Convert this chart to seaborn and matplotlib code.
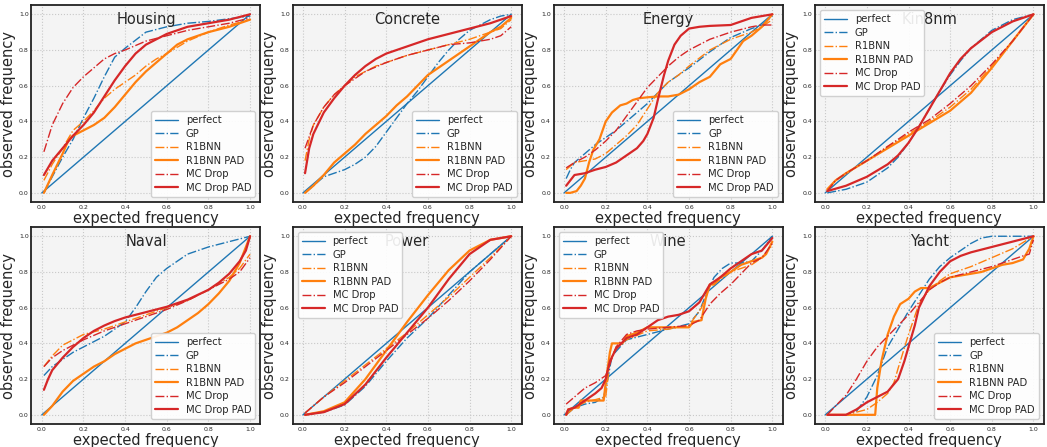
import matplotlib
matplotlib.use("Agg")
import matplotlib.pyplot as plt
import seaborn as sns

# each curve: (expected frequency, observed frequency)
perfect = ([0.0, 1.0], [0.0, 1.0])

housing = {
    "GP": ([0.01, 0.05, 0.1, 0.15, 0.2, 0.25, 0.3, 0.35, 0.4, 0.5, 0.6, 0.7, 0.8, 0.9, 1.0],
           [0.0, 0.09, 0.2, 0.3, 0.42, 0.53, 0.65, 0.76, 0.81, 0.9, 0.93, 0.95, 0.96, 0.975, 0.99]),
    "R1BNN": ([0.01, 0.05, 0.1, 0.15, 0.2, 0.25, 0.3, 0.35, 0.4, 0.45, 0.5, 0.55, 0.6, 0.7, 0.8, 0.9, 1.0],
              [0.07, 0.16, 0.25, 0.35, 0.4, 0.46, 0.53, 0.58, 0.62, 0.66, 0.71, 0.75, 0.78, 0.85, 0.9, 0.94, 0.97]),
    "R1BNN PAD": ([0.01, 0.05, 0.1, 0.13, 0.15, 0.2, 0.25, 0.3, 0.35, 0.4, 0.45, 0.5, 0.55, 0.6, 0.65, 0.7, 0.8, 0.9, 1.0],
                  [0.0, 0.1, 0.22, 0.3, 0.32, 0.35, 0.38, 0.42, 0.48, 0.55, 0.62, 0.68, 0.73, 0.78, 0.83, 0.86, 0.9, 0.93, 0.97]),
    "MC Drop": ([0.01, 0.05, 0.1, 0.15, 0.2, 0.25, 0.3, 0.35, 0.4, 0.5, 0.6, 0.7, 0.8, 0.9, 1.0],
                [0.23, 0.38, 0.5, 0.59, 0.65, 0.7, 0.75, 0.78, 0.8, 0.85, 0.88, 0.91, 0.93, 0.95, 0.98]),
    "MC Drop PAD": ([0.01, 0.05, 0.1, 0.15, 0.2, 0.25, 0.3, 0.35, 0.4, 0.45, 0.5, 0.6, 0.7, 0.8, 0.9, 1.0],
                    [0.1, 0.18, 0.25, 0.32, 0.38, 0.45, 0.54, 0.63, 0.71, 0.78, 0.83, 0.89, 0.93, 0.95, 0.97, 1.0]),
}

concrete = {
    "GP": ([0.01, 0.05, 0.1, 0.15, 0.2, 0.25, 0.3, 0.35, 0.4, 0.45, 0.5, 0.55, 0.6, 0.65, 0.7, 0.75, 0.8, 0.85, 0.9, 0.95, 1.0],
           [0.0, 0.04, 0.09, 0.11, 0.13, 0.16, 0.2, 0.26, 0.34, 0.42, 0.5, 0.57, 0.65, 0.73, 0.8, 0.86, 0.91, 0.94, 0.97, 0.99, 1.0]),
    "R1BNN": ([0.01, 0.03, 0.05, 0.1, 0.15, 0.2, 0.25, 0.3, 0.35, 0.4, 0.5, 0.6, 0.7, 0.8, 0.9, 0.95, 1.0],
              [0.18, 0.3, 0.38, 0.48, 0.55, 0.6, 0.65, 0.68, 0.71, 0.73, 0.77, 0.8, 0.83, 0.86, 0.9, 0.92, 0.97]),
    "R1BNN PAD": ([0.01, 0.05, 0.1, 0.15, 0.2, 0.25, 0.3, 0.35, 0.4, 0.45, 0.5, 0.55, 0.6, 0.65, 0.7, 0.75, 0.8, 0.85, 0.9, 0.95, 1.0],
                  [0.0, 0.04, 0.1, 0.17, 0.22, 0.27, 0.33, 0.38, 0.43, 0.49, 0.54, 0.6, 0.66, 0.7, 0.74, 0.78, 0.82, 0.86, 0.9, 0.93, 0.98]),
    "MC Drop": ([0.01, 0.05, 0.1, 0.15, 0.2, 0.3, 0.4, 0.5, 0.6, 0.7, 0.8, 0.85, 0.9, 0.95, 1.0],
                [0.25, 0.38, 0.48, 0.55, 0.6, 0.68, 0.73, 0.77, 0.8, 0.83, 0.84, 0.85, 0.86, 0.88, 0.93]),
    "MC Drop PAD": ([0.01, 0.03, 0.05, 0.1, 0.15, 0.2, 0.25, 0.3, 0.35, 0.4, 0.5, 0.6, 0.7, 0.8, 0.9, 1.0],
                    [0.11, 0.25, 0.33, 0.45, 0.53, 0.6, 0.66, 0.71, 0.75, 0.78, 0.82, 0.86, 0.89, 0.92, 0.95, 0.99]),
}

energy = {
    "GP": ([0.01, 0.03, 0.05, 0.1, 0.15, 0.2, 0.25, 0.3, 0.35, 0.4, 0.45, 0.5, 0.55, 0.6, 0.7, 0.8, 0.9, 0.95, 1.0],
           [0.08, 0.13, 0.17, 0.22, 0.27, 0.31, 0.35, 0.4, 0.45, 0.5, 0.56, 0.62, 0.66, 0.7, 0.79, 0.87, 0.92, 0.94, 0.99]),
    "R1BNN": ([0.01, 0.05, 0.1, 0.15, 0.2, 0.25, 0.3, 0.35, 0.4, 0.45, 0.5, 0.55, 0.6, 0.7, 0.8, 0.9, 0.95, 1.0],
              [0.13, 0.17, 0.18, 0.19, 0.22, 0.27, 0.32, 0.38, 0.47, 0.56, 0.62, 0.66, 0.71, 0.8, 0.86, 0.9, 0.93, 0.97]),
    "R1BNN PAD": ([0.01, 0.03, 0.06, 0.08, 0.1, 0.12, 0.14, 0.17, 0.2, 0.23, 0.27, 0.3, 0.33, 0.36, 0.4, 0.45, 0.5,
                   0.55, 0.6, 0.65, 0.7, 0.75, 0.8, 0.83, 0.86, 0.9, 0.95, 1.0],
                  [0.0, 0.0, 0.01, 0.04, 0.08, 0.17, 0.24, 0.3, 0.4, 0.45, 0.49, 0.5, 0.52, 0.53, 0.535, 0.54, 0.54,
                   0.55, 0.58, 0.62, 0.65, 0.72, 0.75, 0.8, 0.85, 0.88, 0.93, 1.0]),
    "MC Drop": ([0.01, 0.05, 0.1, 0.15, 0.2, 0.25, 0.3, 0.35, 0.4, 0.45, 0.5, 0.55, 0.6, 0.7, 0.8, 0.9, 0.95, 1.0],
                [0.14, 0.17, 0.2, 0.24, 0.29, 0.35, 0.43, 0.51, 0.59, 0.65, 0.71, 0.76, 0.8, 0.86, 0.9, 0.93, 0.94, 0.94]),
    "MC Drop PAD": ([0.01, 0.03, 0.05, 0.1, 0.15, 0.2, 0.25, 0.3, 0.35, 0.38, 0.4, 0.43, 0.45, 0.48, 0.5, 0.53,
                     0.56, 0.6, 0.65, 0.7, 0.8, 0.85, 0.9, 1.0],
                    [0.04, 0.07, 0.1, 0.11, 0.13, 0.145, 0.17, 0.21, 0.25, 0.29, 0.33, 0.42, 0.52, 0.66, 0.74, 0.83,
                     0.88, 0.92, 0.93, 0.935, 0.94, 0.96, 0.98, 1.0]),
}

kin8nm = {
    "GP": ([0.01, 0.1, 0.2, 0.3, 0.35, 0.4, 0.45, 0.5, 0.55, 0.6, 0.65, 0.7, 0.8, 0.9, 1.0],
           [0.0, 0.02, 0.06, 0.14, 0.2, 0.28, 0.37, 0.47, 0.57, 0.66, 0.74, 0.81, 0.91, 0.97, 1.0]),
    "R1BNN": ([0.01, 0.05, 0.1, 0.2, 0.3, 0.4, 0.5, 0.6, 0.7, 0.8, 0.9, 1.0],
              [0.01, 0.07, 0.11, 0.18, 0.26, 0.33, 0.4, 0.48, 0.58, 0.71, 0.85, 1.0]),
    "R1BNN PAD": ([0.01, 0.05, 0.1, 0.2, 0.3, 0.4, 0.5, 0.6, 0.7, 0.8, 0.9, 1.0],
                  [0.02, 0.07, 0.11, 0.18, 0.25, 0.32, 0.39, 0.46, 0.56, 0.7, 0.85, 1.0]),
    "MC Drop": ([0.01, 0.05, 0.1, 0.2, 0.3, 0.4, 0.5, 0.6, 0.7, 0.8, 0.9, 1.0],
                [0.01, 0.07, 0.11, 0.18, 0.26, 0.34, 0.41, 0.5, 0.6, 0.72, 0.85, 1.0]),
    "MC Drop PAD": ([0.01, 0.1, 0.2, 0.3, 0.35, 0.4, 0.45, 0.5, 0.55, 0.6, 0.65, 0.7, 0.8, 0.9, 1.0],
                    [0.01, 0.04, 0.09, 0.16, 0.21, 0.28, 0.37, 0.47, 0.57, 0.67, 0.75, 0.81, 0.9, 0.96, 1.0]),
}

naval = {
    "GP": ([0.01, 0.05, 0.1, 0.15, 0.2, 0.25, 0.3, 0.35, 0.4, 0.45, 0.5, 0.55, 0.6, 0.65, 0.7, 0.8, 0.9, 1.0],
           [0.22, 0.27, 0.31, 0.35, 0.38, 0.41, 0.44, 0.48, 0.52, 0.6, 0.69, 0.77, 0.82, 0.86, 0.9, 0.94, 0.97, 1.0]),
    "R1BNN": ([0.01, 0.05, 0.1, 0.15, 0.2, 0.3, 0.4, 0.5, 0.6, 0.7, 0.8, 0.9, 0.95, 1.0],
              [0.27, 0.33, 0.39, 0.42, 0.45, 0.48, 0.52, 0.56, 0.6, 0.64, 0.7, 0.77, 0.82, 0.9]),
    "R1BNN PAD": ([0.01, 0.05, 0.1, 0.15, 0.2, 0.25, 0.3, 0.35, 0.4, 0.45, 0.5, 0.55, 0.6, 0.65, 0.7, 0.75, 0.8, 0.85, 0.9, 0.95, 1.0],
                  [0.0, 0.05, 0.13, 0.19, 0.23, 0.27, 0.3, 0.34, 0.37, 0.4, 0.42, 0.44, 0.46, 0.49, 0.53, 0.57, 0.62, 0.68, 0.75, 0.85, 1.0]),
    "MC Drop": ([0.01, 0.05, 0.1, 0.15, 0.2, 0.3, 0.4, 0.5, 0.6, 0.7, 0.8, 0.9, 0.95, 1.0],
                [0.27, 0.32, 0.36, 0.39, 0.42, 0.47, 0.51, 0.55, 0.59, 0.64, 0.7, 0.76, 0.8, 0.88]),
    "MC Drop PAD": ([0.01, 0.03, 0.05, 0.1, 0.15, 0.2, 0.25, 0.3, 0.35, 0.4, 0.5, 0.6, 0.7, 0.8, 0.85, 0.9, 0.95, 0.98, 1.0],
                    [0.14, 0.2, 0.25, 0.32, 0.38, 0.43, 0.47, 0.5, 0.525, 0.545, 0.575, 0.605, 0.645, 0.7, 0.74, 0.79, 0.86, 0.92, 1.0]),
}

power = {
    "GP": ([0.01, 0.1, 0.2, 0.3, 0.4, 0.5, 0.6, 0.7, 0.8, 0.9, 1.0],
           [0.0, 0.015, 0.055, 0.16, 0.3, 0.43, 0.54, 0.67, 0.8, 0.9, 1.0]),
    "R1BNN": ([0.01, 0.1, 0.2, 0.3, 0.4, 0.5, 0.6, 0.7, 0.8, 0.9, 1.0],
              [0.01, 0.1, 0.19, 0.28, 0.37, 0.46, 0.56, 0.66, 0.77, 0.88, 1.0]),
    "R1BNN PAD": ([0.01, 0.1, 0.2, 0.3, 0.4, 0.5, 0.6, 0.7, 0.8, 0.9, 1.0],
                  [0.0, 0.02, 0.07, 0.2, 0.36, 0.52, 0.67, 0.81, 0.92, 0.98, 1.0]),
    "MC Drop": ([0.01, 0.1, 0.2, 0.3, 0.4, 0.5, 0.6, 0.7, 0.8, 0.9, 1.0],
                [0.01, 0.1, 0.18, 0.27, 0.36, 0.45, 0.54, 0.64, 0.75, 0.87, 1.0]),
    "MC Drop PAD": ([0.01, 0.1, 0.2, 0.3, 0.4, 0.5, 0.6, 0.7, 0.8, 0.9, 1.0],
                    [0.0, 0.015, 0.06, 0.17, 0.32, 0.46, 0.6, 0.76, 0.9, 0.98, 1.0]),
}

wine = {
    "GP": ([0.01, 0.05, 0.1, 0.15, 0.19, 0.21, 0.23, 0.3, 0.4, 0.5, 0.6, 0.65, 0.68, 0.72, 0.76, 0.8, 0.85, 0.9, 0.95, 1.0],
           [0.0, 0.04, 0.06, 0.07, 0.1, 0.2, 0.33, 0.42, 0.45, 0.48, 0.51, 0.58, 0.67, 0.77, 0.82, 0.85, 0.85, 0.86, 0.92, 1.0]),
    "R1BNN": ([0.01, 0.05, 0.1, 0.2, 0.22, 0.25, 0.3, 0.4, 0.5, 0.6, 0.66, 0.7, 0.73, 0.8, 0.9, 0.95, 1.0],
              [0.0, 0.04, 0.07, 0.1, 0.3, 0.38, 0.42, 0.47, 0.48, 0.5, 0.6, 0.72, 0.74, 0.8, 0.84, 0.88, 0.95]),
    "R1BNN PAD": ([0.01, 0.02, 0.05, 0.07, 0.08, 0.19, 0.2, 0.22, 0.23, 0.28, 0.3, 0.35, 0.4, 0.6, 0.62, 0.66,
                   0.68, 0.7, 0.72, 0.75, 0.8, 0.85, 0.9, 0.95, 0.97, 1.0],
                  [0.0, 0.03, 0.04, 0.04, 0.08, 0.08, 0.18, 0.35, 0.4, 0.4, 0.44, 0.46, 0.49, 0.49, 0.52, 0.53,
                   0.65, 0.73, 0.73, 0.77, 0.8, 0.84, 0.86, 0.88, 0.9, 0.97]),
    "MC Drop": ([0.01, 0.05, 0.1, 0.15, 0.2, 0.25, 0.3, 0.35, 0.4, 0.5, 0.6, 0.65, 0.7, 0.75, 0.8, 0.85, 0.9, 0.95, 1.0],
                [0.06, 0.1, 0.15, 0.18, 0.22, 0.38, 0.45, 0.47, 0.48, 0.49, 0.5, 0.53, 0.62, 0.68, 0.73, 0.79, 0.85, 0.88, 0.96]),
    "MC Drop PAD": ([0.01, 0.02, 0.05, 0.1, 0.15, 0.18, 0.2, 0.22, 0.25, 0.3, 0.35, 0.4, 0.45, 0.5, 0.55, 0.6,
                     0.65, 0.7, 0.75, 0.8, 0.85, 0.9, 0.95, 1.0],
                    [0.0, 0.03, 0.04, 0.08, 0.12, 0.15, 0.2, 0.3, 0.37, 0.43, 0.45, 0.49, 0.53, 0.55, 0.56, 0.58,
                     0.63, 0.73, 0.77, 0.82, 0.86, 0.9, 0.92, 0.99]),
}

yacht = {
    "GP": ([0.01, 0.1, 0.15, 0.2, 0.25, 0.3, 0.35, 0.4, 0.45, 0.5, 0.55, 0.6, 0.65, 0.7, 0.75, 0.8, 0.9, 1.0],
           [0.0, 0.0, 0.02, 0.1, 0.22, 0.38, 0.48, 0.58, 0.67, 0.76, 0.83, 0.88, 0.92, 0.96, 0.99, 1.0, 1.0, 1.0]),
    "R1BNN": ([0.01, 0.1, 0.2, 0.25, 0.3, 0.33, 0.35, 0.4, 0.45, 0.5, 0.55, 0.6, 0.7, 0.8, 0.9, 1.0],
              [0.0, 0.0, 0.03, 0.07, 0.12, 0.18, 0.26, 0.45, 0.62, 0.7, 0.75, 0.79, 0.83, 0.88, 0.93, 1.0]),
    "R1BNN PAD": ([0.01, 0.1, 0.24, 0.25, 0.27, 0.3, 0.33, 0.36, 0.4, 0.43, 0.46, 0.5, 0.55, 0.6, 0.65, 0.7,
                   0.75, 0.8, 0.85, 0.9, 0.95, 0.98, 1.0],
                  [0.0, 0.0, 0.0, 0.15, 0.3, 0.45, 0.55, 0.62, 0.65, 0.69, 0.71, 0.71, 0.74, 0.77, 0.78, 0.79,
                   0.8, 0.82, 0.84, 0.85, 0.87, 0.93, 1.0]),
    "MC Drop": ([0.01, 0.05, 0.1, 0.15, 0.2, 0.25, 0.3, 0.35, 0.4, 0.45, 0.5, 0.55, 0.6, 0.7, 0.8, 0.9, 0.95, 0.98, 1.0],
                [0.0, 0.05, 0.11, 0.2, 0.3, 0.38, 0.44, 0.5, 0.56, 0.63, 0.7, 0.74, 0.77, 0.8, 0.83, 0.87, 0.89, 0.9, 0.98]),
    "MC Drop PAD": ([0.01, 0.1, 0.15, 0.2, 0.25, 0.3, 0.35, 0.38, 0.4, 0.43, 0.45, 0.5, 0.55, 0.6, 0.65, 0.7, 0.8, 0.9, 1.0],
                    [0.0, 0.0, 0.03, 0.07, 0.1, 0.13, 0.2, 0.3, 0.38, 0.5, 0.6, 0.72, 0.8, 0.86, 0.89, 0.91, 0.94, 0.97, 1.0]),
}

titles = ["Housing", "Concrete", "Energy", "Kin8nm", "Naval", "Power", "Wine", "Yacht"]
datasets = [housing, concrete, energy, kin8nm, naval, power, wine, yacht]
legend_locs = ["lower right", "lower right", "lower right", "upper left",
               "lower right", "upper left", "upper left", "lower right"]

styles = {
    "GP": ("#1f77b4", "-.", 1.0),
    "R1BNN": ("#ff7f0e", "-.", 1.0),
    "R1BNN PAD": ("#ff7f0e", "-", 1.6),
    "MC Drop": ("#d62728", "-.", 1.0),
    "MC Drop PAD": ("#d62728", "-", 1.6),
}

sns.set_style("whitegrid", {"axes.facecolor": "#f4f4f4", "grid.linestyle": ":",
                            "grid.color": "#c8c8c8", "axes.edgecolor": "#222222"})
plt.rcParams["font.family"] = ["DejaVu Sans"]

fig, axes = plt.subplots(2, 4, figsize=(10.47, 4.47), dpi=100)
plt.subplots_adjust(left=0.03, right=0.997, top=0.988, bottom=0.052, wspace=0.14, hspace=0.13)

for ax, title, data, loc in zip(axes.flat, titles, datasets, legend_locs):
    sns.lineplot(x=perfect[0], y=perfect[1], ax=ax, color="#1f77b4", linewidth=1.0, label="perfect")
    for name, (xs, ys) in data.items():
        c, ls, lw = styles[name]
        sns.lineplot(x=xs, y=ys, ax=ax, color=c, linestyle=ls, linewidth=lw, label=name,
                     sort=False, estimator=None)
    ax.set_xlim(-0.05, 1.05)
    ax.set_ylim(-0.05, 1.05)
    ax.set_xticks([0.0, 0.2, 0.4, 0.6, 0.8, 1.0])
    ax.set_yticks([0.0, 0.2, 0.4, 0.6, 0.8, 1.0])
    ax.tick_params(labelsize=4.5, pad=2, length=0)
    ax.set_xlabel("expected frequency", fontsize=10.5, labelpad=1)
    ax.set_ylabel("observed frequency", fontsize=10.5, labelpad=2)
    ax.text(0.5, 0.965, title, transform=ax.transAxes, ha="center", va="top", fontsize=10.5)
    for s in ax.spines.values():
        s.set_linewidth(1.3)
    ax.legend(loc=loc, fontsize=7.2, frameon=True, handlelength=2.3, labelspacing=0.35,
              borderpad=0.4, facecolor="white", edgecolor="#cccccc", framealpha=0.9)

plt.savefig("out.png", dpi=100)
